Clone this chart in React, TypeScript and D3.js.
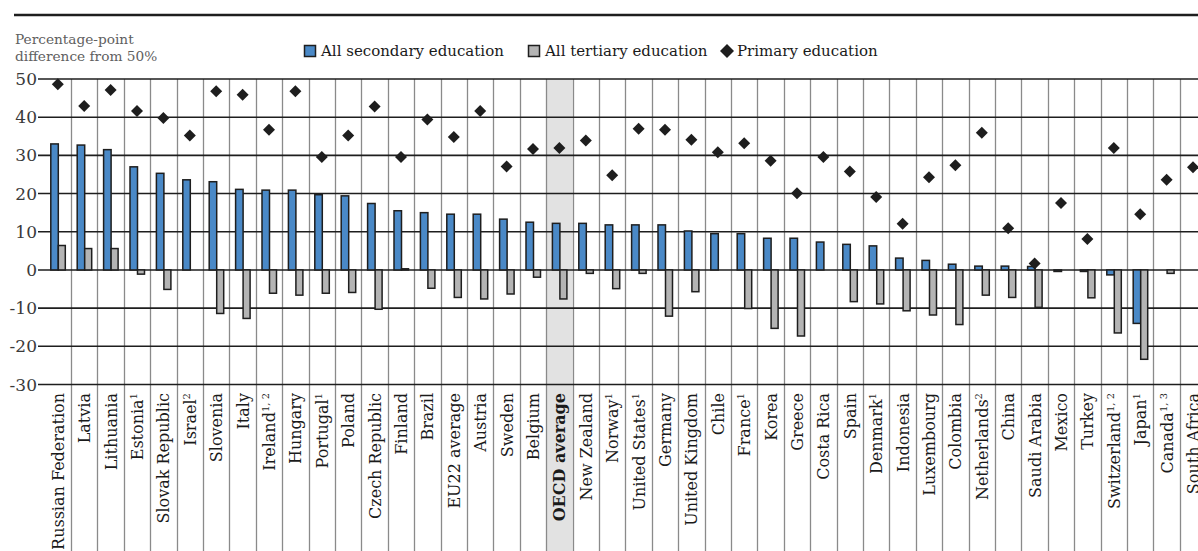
import React, { useEffect, useRef } from "react";
import * as d3 from "d3";

const countries = [
  "Russian Federation", "Latvia", "Lithuania", "Estonia", "Slovak Republic", "Israel",
  "Slovenia", "Italy", "Ireland", "Hungary", "Portugal", "Poland", "Czech Republic",
  "Finland", "Brazil", "EU22 average", "Austria", "Sweden", "Belgium", "OECD average",
  "New Zealand", "Norway", "United States", "Germany", "United Kingdom", "Chile",
  "France", "Korea", "Greece", "Costa Rica", "Spain", "Denmark", "Indonesia",
  "Luxembourg", "Colombia", "Netherlands", "China", "Saudi Arabia", "Mexico", "Turkey",
  "Switzerland", "Japan", "Canada", "South Africa",
];

const notes = [
  "", "", "", "1", "", "2", "", "", "1, 2", "", "1", "", "", "", "", "", "", "", "", "",
  "", "1", "1", "", "", "", "1", "", "", "", "", "1", "", "", "", "2", "", "", "", "",
  "1, 2", "1", "1, 3", "",
];

const secondary = [
  33.0, 32.7, 31.5, 27.0, 25.3, 23.6, 23.1, 21.1, 20.9, 20.9, 19.7, 19.4, 17.4, 15.5,
  15.0, 14.6, 14.6, 13.3, 12.5, 12.2, 12.2, 11.8, 11.8, 11.8, 10.2, 9.5, 9.5, 8.3, 8.3,
  7.3, 6.7, 6.3, 3.1, 2.5, 1.5, 1.0, 1.0, 0.9, -0.4, -0.4, -1.3, -14.0, 0, 0,
];

const tertiary = [
  6.4, 5.6, 5.6, -1.1, -5.1, 0, -11.4, -12.7, -6.1, -6.6, -6.1, -5.9, -10.3, 0.3, -4.8,
  -7.2, -7.6, -6.3, -1.9, -7.6, -0.9, -4.9, -0.9, -12.1, -5.7, 0, -10.1, -15.3, -17.3, 0,
  -8.3, -8.9, -10.7, -11.8, -14.3, -6.6, -7.2, -9.8, 0, -7.3, -16.5, -23.4, -0.9, 0,
];

const primary = [
  48.6, 42.9, 47.1, 41.6, 39.8, 35.2, 46.8, 45.9, 36.7, 46.8, 29.6, 35.2, 42.8, 29.6,
  39.4, 34.8, 41.6, 27.1, 31.7, 31.9, 33.9, 24.8, 37.0, 36.7, 34.1, 30.8, 33.2, 28.6,
  20.1, 29.6, 25.8, 19.1, 12.1, 24.3, 27.4, 35.9, 10.9, 1.7, 17.5, 8.1, 31.9, 14.6, 23.6,
  26.9,
];

const yTicks = [-30, -20, -10, 0, 10, 20, 30, 40, 50];

const legendItems = ["All secondary education", "All tertiary education", "Primary education"];

const BLUE = "#4a89c7";
const GREY = "#b4b4b4";
const INK = "#1e1e1e";
const FONT = "'DejaVu Serif', serif";

function Chart() {
  const ref = useRef<SVGSVGElement | null>(null);

  useEffect(() => {
    const svg = d3.select(ref.current);
    svg.selectAll("*").remove();

    const W = 1198, H = 551;
    const x = d3.scaleBand().domain(countries).range([44.6, 1206.2]).padding(0);
    const y = d3.scaleLinear().domain([-30, 50]).range([384.5, 79]);
    const bw = x.bandwidth();
    const cx = (d: string) => (x(d) as number) + bw / 2 + 0.5;

    // top rule
    svg.append("line")
      .attr("x1", 14).attr("x2", W).attr("y1", 15).attr("y2", 15)
      .attr("stroke", INK).attr("stroke-width", 2.5);

    // shaded OECD average column
    svg.append("rect")
      .attr("x", x("OECD average") as number)
      .attr("y", y(50))
      .attr("width", bw)
      .attr("height", H - y(50))
      .attr("fill", "#e2e2e2");

    // vertical gridlines
    svg.append("g")
      .selectAll("line")
      .data(countries.slice(1))
      .join("line")
      .attr("x1", d => Math.round(x(d) as number) + 0.5)
      .attr("x2", d => Math.round(x(d) as number) + 0.5)
      .attr("y1", y(50))
      .attr("y2", H)
      .attr("stroke", "#8a8a8a")
      .attr("stroke-width", 1.3);

    // horizontal gridlines + ticks
    svg.append("g")
      .selectAll("line")
      .data(yTicks)
      .join("line")
      .attr("x1", 38)
      .attr("x2", W)
      .attr("y1", d => y(d))
      .attr("y2", d => y(d))
      .attr("stroke", INK)
      .attr("stroke-width", 1.6);

    svg.append("g")
      .selectAll("text")
      .data(yTicks)
      .join("text")
      .attr("x", 37)
      .attr("y", d => y(d) + 6)
      .attr("text-anchor", "end")
      .attr("font-family", FONT)
      .attr("font-size", 17)
      .attr("fill", "#3a3a3a")
      .text(d => d);

    // axis title
    const title = svg.append("text")
      .attr("font-family", FONT)
      .attr("font-size", 13.7)
      .attr("fill", "#606060");
    title.append("tspan").attr("x", 15).attr("y", 43.5).text("Percentage-point");
    title.append("tspan").attr("x", 15).attr("y", 61).text("difference from 50%");

    // bars
    const rows = countries.map((c, i) => ({ c, sec: secondary[i], ter: tertiary[i], pri: primary[i] }));

    svg.append("g")
      .selectAll("rect")
      .data(rows.filter(r => r.sec !== 0))
      .join("rect")
      .attr("x", d => cx(d.c) - 7.5)
      .attr("y", d => y(Math.max(0, d.sec)))
      .attr("width", 7.5)
      .attr("height", d => Math.abs(y(d.sec) - y(0)))
      .attr("fill", BLUE)
      .attr("stroke", INK)
      .attr("stroke-width", 1.5);

    svg.append("g")
      .selectAll("rect")
      .data(rows.filter(r => r.ter !== 0))
      .join("rect")
      .attr("x", d => cx(d.c))
      .attr("y", d => y(Math.max(0, d.ter)))
      .attr("width", 7)
      .attr("height", d => Math.abs(y(d.ter) - y(0)))
      .attr("fill", GREY)
      .attr("stroke", INK)
      .attr("stroke-width", 1.5);

    // diamonds
    const diamond = d3.symbol().type(d3.symbolSquare).size(72);
    svg.append("g")
      .selectAll("path")
      .data(rows)
      .join("path")
      .attr("d", diamond)
      .attr("transform", d => `translate(${cx(d.c) - 0.5},${y(d.pri)}) rotate(45)`)
      .attr("fill", INK);

    // category labels
    const labels = svg.append("g")
      .selectAll("text")
      .data(rows.map((r, i) => ({ ...r, note: notes[i] })))
      .join("text")
      .attr("transform", d => `translate(${cx(d.c) + 5.5},393) rotate(-90)`)
      .attr("text-anchor", "end")
      .attr("font-family", FONT)
      .attr("font-size", 16)
      .attr("font-weight", d => (d.c === "OECD average" ? "bold" : "normal"))
      .attr("fill", "#1a1a1a");
    labels.append("tspan").text(d => d.c);
    labels.filter(d => d.note !== "")
      .append("tspan")
      .attr("dy", -6)
      .attr("font-size", 10)
      .text(d => d.note);

    // legend
    const lg = svg.append("g").attr("font-family", FONT).attr("font-size", 15).attr("fill", "#1a1a1a");
    lg.append("rect").attr("x", 304.5).attr("y", 45.5).attr("width", 11).attr("height", 11)
      .attr("fill", BLUE).attr("stroke", INK).attr("stroke-width", 1.5);
    lg.append("text").attr("x", 321).attr("y", 56).text(legendItems[0]);
    lg.append("rect").attr("x", 528.5).attr("y", 45.5).attr("width", 11).attr("height", 11)
      .attr("fill", GREY).attr("stroke", INK).attr("stroke-width", 1.5);
    lg.append("text").attr("x", 545).attr("y", 56).text(legendItems[1]);
    lg.append("path")
      .attr("d", d3.symbol().type(d3.symbolSquare).size(98)())
      .attr("transform", "translate(727,51) rotate(45)")
      .attr("fill", INK);
    lg.append("text").attr("x", 737).attr("y", 56).text(legendItems[2]);
  }, []);

  return (
    <svg
      ref={ref}
      width={1198}
      height={551}
      style={{ position: "absolute", left: 0, top: 0, background: "#fff" }}
    />
  );
}

export default function App() {
  return <Chart />;
}
